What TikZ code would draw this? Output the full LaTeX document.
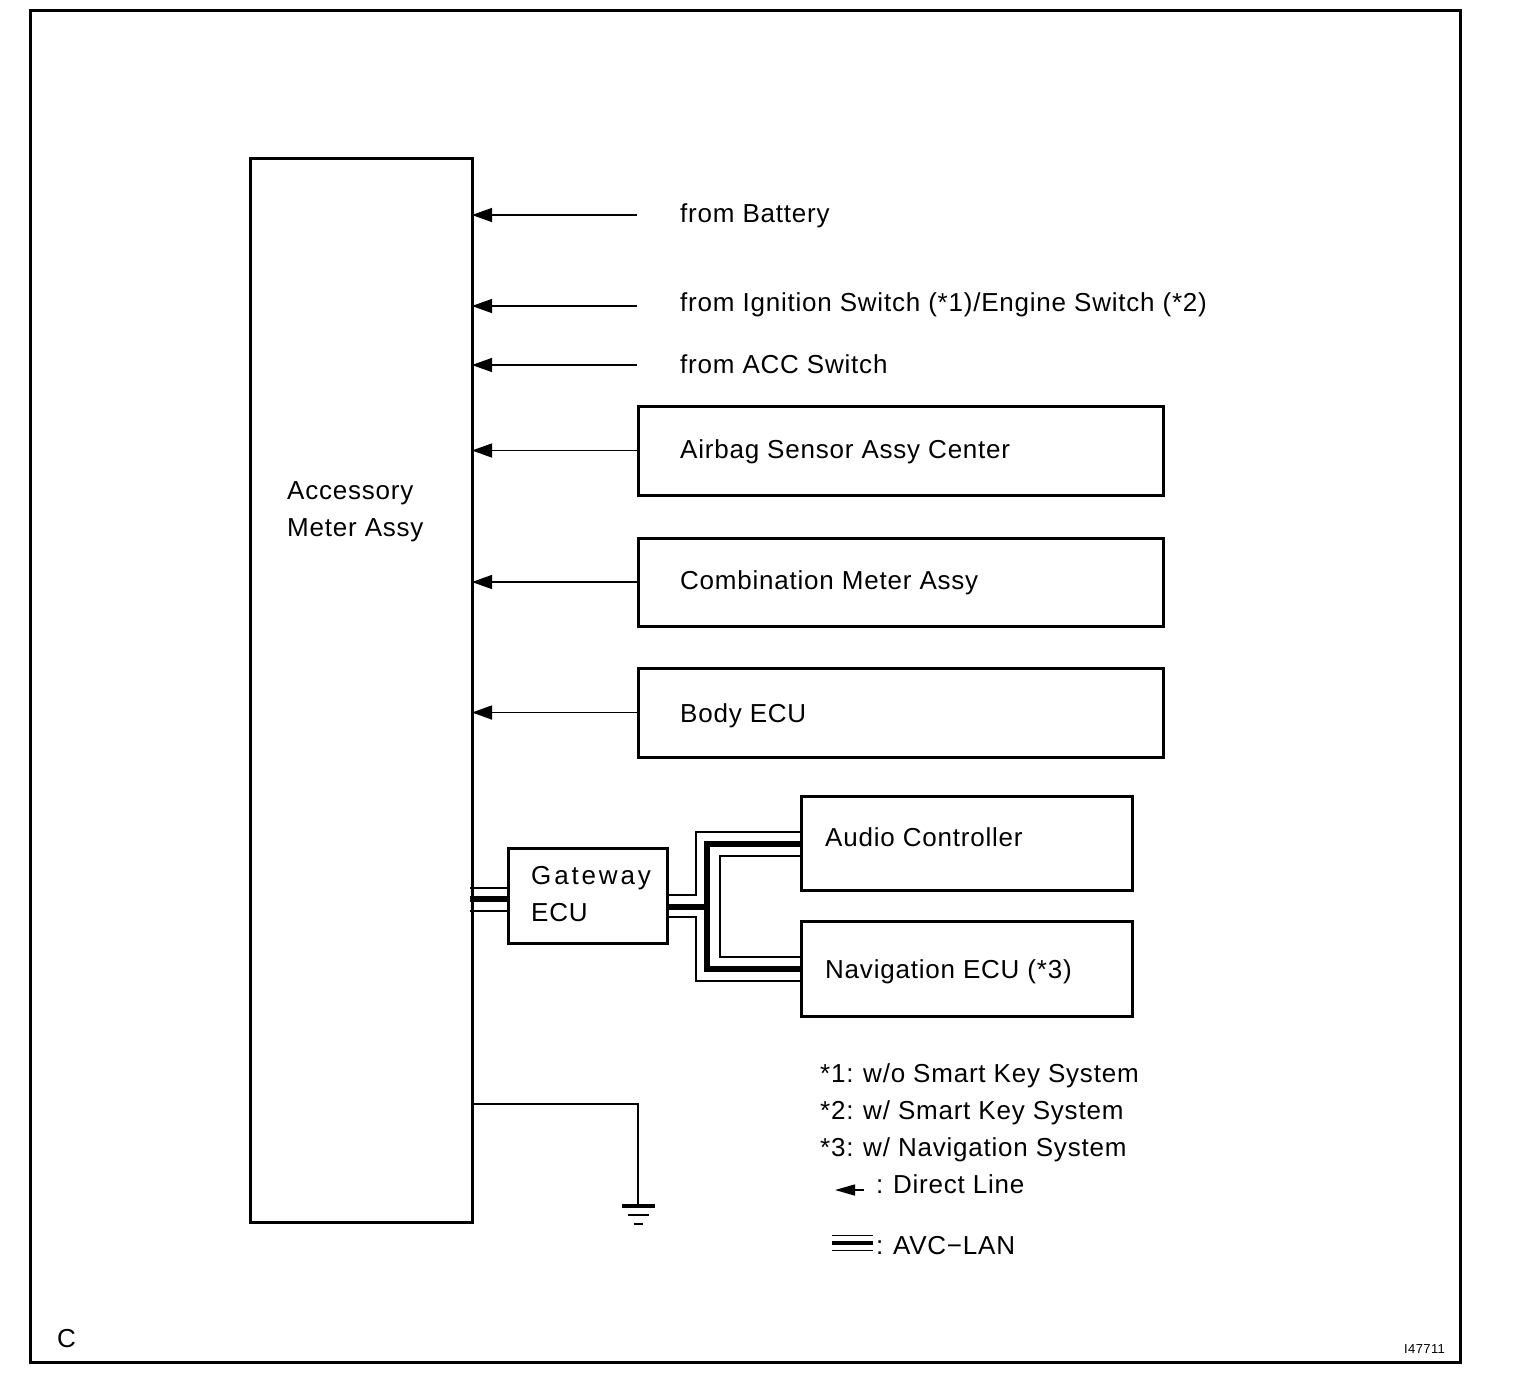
\documentclass[tikz,border=0pt]{standalone}
\usepackage{fontspec}
\setmainfont{Liberation Sans}[LetterSpace=3]
\usetikzlibrary{arrows.meta}
\begin{document}
\begin{tikzpicture}[x=1pt,y=-1pt,
  box/.style={draw,line width=3pt,rectangle,inner sep=0pt,outer sep=0pt,anchor=north west},
  lbl/.style={inner sep=0pt,anchor=base west,font=\fontsize{26}{31}\selectfont},
  wire/.style={line width=1.4pt},
  dl/.style={line width=1.4pt,-{Triangle[length=20pt,width=14pt]}},
  lanthin/.style={line width=1.6pt},
  lanthick/.style={line width=5.5pt}]
\useasboundingbox (0,0) rectangle (1536,1398);
\fill[white] (0,0) rectangle (1536,1398);
% frame
\draw[line width=3pt] (30,10) rectangle (1460,1362);
% boxes
\node[box,minimum width=222pt,minimum height=1064pt] (acc) at (250,158) {};
\node[box,minimum width=525pt,minimum height=89pt] (airbag) at (638,406) {};
\node[box,minimum width=525pt,minimum height=88pt] (comb) at (638,538) {};
\node[box,minimum width=525pt,minimum height=89pt] (body) at (638,668) {};
\node[box,minimum width=159pt,minimum height=95pt] (gw) at (508,848) {};
\node[box,minimum width=331pt,minimum height=94pt] (audio) at (801,796) {};
\node[box,minimum width=331pt,minimum height=95pt] (nav) at (801,921) {};
% labels
\node[lbl] (accT1) at (287,499) {Accessory};
\node[lbl] (accT2) at (287,536) {Meter Assy};
\node[lbl] (battT) at (680,222) {from Battery};
\node[lbl] (ignT) at (680,311) {from Ignition Switch (*1)/Engine Switch (*2)};
\node[lbl] (accsT) at (680,373) {from ACC Switch};
\node[lbl] (airbagT) at (680,458) {Airbag Sensor Assy Center};
\node[lbl] (combT) at (680,589) {Combination Meter Assy};
\node[lbl] (bodyT) at (680,722) {Body ECU};
\node[lbl] (gwT1) at (531,884) {\addfontfeature{LetterSpace=11}Gateway};
\node[lbl] (gwT2) at (531,921) {ECU};
\node[lbl] (audioT) at (825,846) {Audio Controller};
\node[lbl] (navT) at (825,978) {Navigation ECU (*3)};
\node[lbl] (n1) at (820,1082) {*1:\hspace{-1pt} w/o Smart Key System};
\node[lbl] (n2) at (820,1119) {*2:\hspace{-1pt} w/ Smart Key System};
\node[lbl] (n3) at (820,1156) {*3:\hspace{-1pt} w/ Navigation System};
\node[lbl] (dlT) at (876,1193) {:\hspace{-1pt} Direct Line};
\node[lbl] (lanT) at (876,1254) {:\hspace{-1pt} AVC−LAN};
\node[lbl] (cT) at (57,1347) {C};
\node[inner sep=0pt,anchor=base west,font=\fontsize{13}{15}\selectfont] (idT) at (1404,1353) {I47711};
% free ends of direct lines
\coordinate (battE) at (637,215);
\coordinate (ignE) at (637,306);
\coordinate (accsE) at (637,365);
\draw[dl] (battE) -- (battE -| acc.east);
\draw[dl] (ignE) -- (ignE -| acc.east);
\draw[dl] (accsE) -- (accsE -| acc.east);
\draw[dl] (airbag.west) -- (airbag.west -| acc.east);
\draw[dl] (comb.west) -- (comb.west -| acc.east);
\draw[dl] (body.west) -- (body.west -| acc.east);
% AVC-LAN left of gateway
\draw[lanthin] (gw.west |- 0,888) -- ([xshift=-2pt]acc.east |- 0,888);
\draw[lanthick] (gw.west |- 0,899) -- ([xshift=-2pt]acc.east |- 0,899);
\draw[lanthin] (gw.west |- 0,911) -- ([xshift=-2pt]acc.east |- 0,911);
% AVC-LAN right of gateway
\draw[lanthin] (gw.east |- 0,895) -| (696,832) -- (audio.west |- 0,832);
\draw[lanthick] (gw.east |- 0,907) -- (707,907);
\draw[lanthick] (audio.west |- 0,844) -| (707,969) -- (nav.west |- 0,969);
\draw[lanthin] (gw.east |- 0,917) -| (696,981) -- (nav.west |- 0,981);
\draw[lanthin] (audio.west |- 0,856) -| (720,957) -- (nav.west |- 0,957);
% ground
\coordinate (gnd) at (638,1206);
\draw[wire] (acc.east |- 0,1104) -| (gnd);
\draw[line width=4pt] ([xshift=-16.5pt]gnd) -- ([xshift=16.5pt]gnd);
\draw[line width=2.2pt] ([shift={(-10.5,9)}]gnd) -- ([shift={(10.5,9)}]gnd);
\draw[line width=2.2pt] ([shift={(-4.5,18)}]gnd) -- ([shift={(4.5,18)}]gnd);
% legend symbols
\coordinate (dlE) at (864,1190);
\coordinate (dlS) at (835,1190);
\draw[line width=1.5pt,-{Triangle[length=20pt,width=11pt]}] (dlE) -- (dlS);
\coordinate (lanS) at (832,1243);
\coordinate (lanE) at (873,1243);
\draw[lanthin] ([yshift=7.5pt]lanS) -- ([yshift=7.5pt]lanE);
\draw[line width=4pt] (lanS) -- (lanE);
\draw[lanthin] ([yshift=-7.5pt]lanS) -- ([yshift=-7.5pt]lanE);
\end{tikzpicture}
\end{document}
